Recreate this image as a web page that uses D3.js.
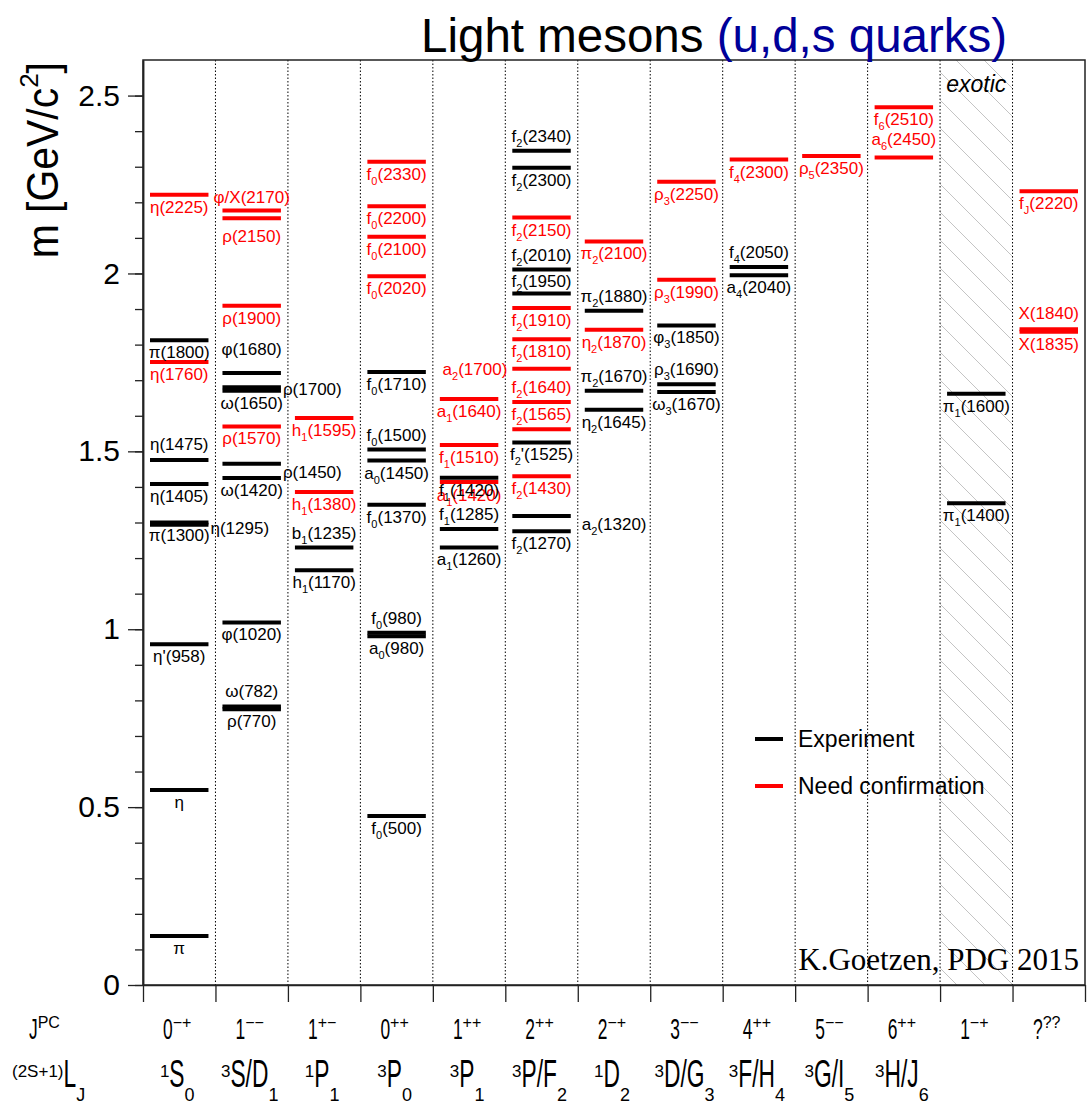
<!DOCTYPE html>
<html>
<head>
<meta charset="utf-8">
<script src="https://cdn.jsdelivr.net/npm/d3@7"></script>
<style>
body { margin: 0; background: #fff; }
svg text { font-family: "Liberation Sans", Arial, Helvetica, sans-serif; }
</style>
</head>
<body>
<svg id="chart" width="1091" height="1104"></svg>
<script>
// quantum numbers of each column
const jpcMain = ['0', '1', '1', '0', '1', '2', '2', '3', '4', '5', '6', '1', '?'];
const jpcSup = ['−+', '−−', '+−', '++', '++', '++', '−+', '−−', '++', '−−', '++', '−+', '??'];
const lSup = ['1', '3', '1', '3', '3', '3', '1', '3', '3', '3', '3', '', ''];
const lMain = ['S', 'S/D', 'P', 'P', 'P', 'P/F', 'D', 'D/G', 'F/H', 'G/I', 'H/J', '', ''];
const lSub = ['0', '1', '1', '0', '1', '2', '2', '3', '4', '5', '6', '', ''];
const exoticColumn = 11;

// states: [column, name (_x = subscript), mass in GeV, established?]
const states = [
  [0, 'π', 0.138, 1], [0, 'η', 0.548, 1], [0, "η'(958)", 0.958, 1],
  [0, 'η(1295)', 1.294, 1], [0, 'π(1300)', 1.300, 1], [0, 'η(1405)', 1.408, 1],
  [0, 'η(1475)', 1.476, 1], [0, 'η(1760)', 1.751, 0], [0, 'π(1800)', 1.812, 1],
  [0, 'η(2225)', 2.221, 0],

  [1, 'ρ(770)', 0.775, 1], [1, 'ω(782)', 0.783, 1], [1, 'φ(1020)', 1.019, 1],
  [1, 'ω(1420)', 1.425, 1], [1, 'ρ(1450)', 1.465, 1], [1, 'ρ(1570)', 1.570, 0],
  [1, 'ω(1650)', 1.670, 1], [1, 'φ(1680)', 1.680, 1], [1, 'ρ(1700)', 1.720, 1],
  [1, 'ρ(1900)', 1.909, 0], [1, 'ρ(2150)', 2.155, 0], [1, 'φ/X(2170)', 2.177, 0],

  [2, 'h_1(1170)', 1.166, 1], [2, 'b_1(1235)', 1.2295, 1],
  [2, 'h_1(1380)', 1.386, 0], [2, 'h_1(1595)', 1.594, 0],

  [3, 'f_0(500)', 0.475, 1], [3, 'a_0(980)', 0.980, 1], [3, 'f_0(980)', 0.990, 1],
  [3, 'f_0(1370)', 1.350, 1], [3, 'a_0(1450)', 1.474, 1], [3, 'f_0(1500)', 1.505, 1],
  [3, 'f_0(1710)', 1.723, 1], [3, 'f_0(2020)', 1.992, 0], [3, 'f_0(2100)', 2.103, 0],
  [3, 'f_0(2200)', 2.189, 0], [3, 'f_0(2330)', 2.314, 0],

  [4, 'a_1(1260)', 1.230, 1], [4, 'f_1(1285)', 1.282, 1], [4, 'a_1(1420)', 1.414, 0],
  [4, 'f_1(1420)', 1.426, 1], [4, 'f_1(1510)', 1.518, 0], [4, 'a_1(1640)', 1.647, 0],

  [5, 'f_2(1270)', 1.2755, 1], [5, 'a_2(1320)', 1.318, 1], [5, 'f_2(1430)', 1.430, 0],
  [5, "f_2'(1525)", 1.525, 1], [5, 'f_2(1565)', 1.562, 0], [5, 'f_2(1640)', 1.639, 0],
  [5, 'a_2(1700)', 1.732, 0], [5, 'f_2(1810)', 1.815, 0], [5, 'f_2(1910)', 1.903, 0],
  [5, 'f_2(1950)', 1.944, 1], [5, 'f_2(2010)', 2.011, 1], [5, 'f_2(2150)', 2.157, 0],
  [5, 'f_2(2300)', 2.297, 1], [5, 'f_2(2340)', 2.345, 1],

  [6, 'η_2(1645)', 1.617, 1], [6, 'π_2(1670)', 1.6706, 1], [6, 'η_2(1870)', 1.842, 0],
  [6, 'π_2(1880)', 1.895, 1], [6, 'π_2(2100)', 2.090, 0],

  [7, 'ω_3(1670)', 1.667, 1], [7, 'ρ_3(1690)', 1.6888, 1], [7, 'φ_3(1850)', 1.854, 1],
  [7, 'ρ_3(1990)', 1.982, 0], [7, 'ρ_3(2250)', 2.258, 0],

  [8, 'a_4(2040)', 1.995, 1], [8, 'f_4(2050)', 2.018, 1], [8, 'f_4(2300)', 2.320, 0],

  [9, 'ρ_5(2350)', 2.330, 0],

  [10, 'a_6(2450)', 2.326, 0], [10, 'f_6(2510)', 2.467, 0],

  [11, 'π_1(1400)', 1.354, 1], [11, 'π_1(1600)', 1.662, 1],

  [12, 'X(1835)', 1.8365, 0], [12, 'X(1840)', 1.843, 0], [12, 'f_J(2220)', 2.231, 0]
];

const yMajorTicks = [0, 0.5, 1, 1.5, 2, 2.5];
const legendLabels = ['Experiment', 'Need confirmation'];

// where each label sits relative to its bar (default: below)
const labelPlace = {
  'η(1295)': ['r', 9, 2], 'η(1475)': ['a', -10],
  'ω(782)': ['a'], 'ρ(1450)': ['r', 14, 2], 'φ(1680)': ['a', -32], 'ρ(1700)': ['r', 22, 2],
  'ρ(2150)': ['b', 24], 'φ/X(2170)': ['a', -7],
  'b_1(1235)': ['a'],
  'f_0(980)': ['a'], 'f_0(1500)': ['a'],
  'f_1(1285)': ['a'], 'a_1(1420)': ['b', 19],
  'a_2(1320)': ['r', 14, 11], 'f_2(1565)': ['a'], 'f_2(1640)': ['a'], 'a_2(1700)': ['l', 6, 5],
  'f_2(1950)': ['a', -6], 'f_2(2010)': ['a'], 'f_2(2340)': ['a'],
  'π_2(1670)': ['a'], 'π_2(1880)': ['a'],
  'ρ_3(1690)': ['a'], 'f_4(2050)': ['a'],
  'a_6(2450)': ['a', -12], 'X(1840)': ['a', -10]
};

const frameL = 143, frameR = 1085, frameT = 60, frameB = 985;
const RED = '#ff0000';

const svg = d3.select('#chart');

const x = d3.scaleLinear().domain([0, jpcMain.length]).range([frameL, frameR]);
const y = d3.scaleLinear().domain([0, 2.6]).range([frameB, frameT]);

// hatch for the exotic column
const defs = svg.append('defs');
defs.append('pattern')
  .attr('id', 'hatch')
  .attr('patternUnits', 'userSpaceOnUse')
  .attr('width', 28).attr('height', 28)
  .append('path')
  .attr('d', 'M0,0L28,28M-4,24L4,32M24,-4L32,4')
  .attr('stroke', '#c4c4c4')
  .attr('stroke-width', 1);

svg.append('rect')
  .attr('x', x(exoticColumn)).attr('y', frameT)
  .attr('width', x(exoticColumn + 1) - x(exoticColumn))
  .attr('height', frameB - frameT)
  .attr('fill', 'url(#hatch)');

// dotted separators
svg.append('g').selectAll('line')
  .data(d3.range(1, jpcMain.length))
  .enter().append('line')
  .attr('x1', d => x(d)).attr('x2', d => x(d))
  .attr('y1', frameT).attr('y2', frameB)
  .attr('stroke', '#000')
  .attr('stroke-width', 1)
  .attr('stroke-dasharray', '1.5,2');

// frame
svg.append('rect')
  .attr('x', frameL).attr('y', frameT)
  .attr('width', frameR - frameL).attr('height', frameB - frameT)
  .attr('fill', 'none').attr('stroke', '#222').attr('stroke-width', 1.5);

// axes
const yMinor = svg.append('g')
  .attr('transform', `translate(${frameL},0)`)
  .call(d3.axisLeft(y).tickValues(d3.range(0, 26).map(i => i / 10)).tickSize(8).tickSizeOuter(0).tickFormat(''));
const yMajor = svg.append('g')
  .attr('transform', `translate(${frameL},0)`)
  .call(d3.axisLeft(y).tickValues(yMajorTicks).tickSize(15).tickSizeOuter(0).tickPadding(8).tickFormat(d => String(d)));
yMajor.selectAll('text').style('font-size', '30px').attr('fill', '#000');
[yMinor, yMajor].forEach(g => {
  g.select('.domain').attr('stroke', '#222').attr('stroke-width', 1.5);
  g.selectAll('line').attr('stroke', '#222').attr('stroke-width', 1.3);
});

const xAxis = svg.append('g')
  .attr('transform', `translate(0,${frameB})`)
  .call(d3.axisBottom(x).tickValues(d3.range(jpcMain.length + 1)).tickSize(17).tickSizeOuter(0).tickFormat(''));
xAxis.select('.domain').attr('stroke', '#222').attr('stroke-width', 1.5);
xAxis.selectAll('line').attr('stroke', '#222').attr('stroke-width', 1.3);

// bars
const barX0 = c => x(c) + 7;
const barX1 = c => x(c + 1) - 7;

const bars = svg.append('g');
bars.selectAll('line')
  .data(states)
  .enter().append('line')
  .attr('x1', d => barX0(d[0])).attr('x2', d => barX1(d[0]))
  .attr('y1', d => y(d[2])).attr('y2', d => y(d[2]))
  .attr('stroke', d => d[3] ? '#000' : RED)
  .attr('stroke-width', 4);

// labels
function stateLabel(g, d) {
  const [c, name, m, ok] = d;
  const place = labelPlace[name] || ['b'];
  const side = place[0];
  const dy = place[1] !== undefined ? place[1] : (side === 'a' ? -9 : 18);
  const dx = place[2] || 0;
  let tx = (x(c) + x(c + 1)) / 2, anchor = 'middle';
  if (side === 'r') { tx = barX1(c) + dx; anchor = 'start'; }
  if (side === 'l') { tx = barX0(c) - dx; anchor = 'end'; }
  const parts = name.match(/^([^_]*)(?:_(.))?(.*)$/);
  const t = g.append('text')
    .attr('x', tx).attr('y', y(m) + dy)
    .attr('text-anchor', anchor)
    .attr('fill', ok ? '#000' : RED)
    .style('font-size', '17px');
  t.append('tspan').text(parts[1]);
  if (parts[2]) {
    t.append('tspan').attr('dy', 5).style('font-size', '11px').text(parts[2]);
    t.append('tspan').attr('dy', -5).text(parts[3]);
  } else if (parts[3]) {
    t.append('tspan').text(parts[3]);
  }
}
const labels = svg.append('g');
states.filter(d => !d[3]).forEach(d => stateLabel(labels, d));
states.filter(d => d[3]).forEach(d => stateLabel(labels, d));

// text made of pieces, main glyphs condensed
function pieces(parent, list, px, py, anchor) {
  const g = parent.append('g');
  let w = 0;
  list.forEach(p => {
    if (!p.text) return;
    const sx = p.sx || 1;
    const t = g.append('text')
      .attr('transform', `translate(${w},${p.dy || 0}) scale(${sx},1)`)
      .style('font-size', p.size + 'px')
      .attr('fill', '#000')
      .text(p.text);
    w += t.node().getComputedTextLength() * sx;
  });
  const off = anchor === 'middle' ? -w / 2 : anchor === 'end' ? -w : 0;
  g.attr('transform', `translate(${px + off},${py})`);
  return g;
}

const rows = svg.append('g');
jpcMain.forEach((j, i) => {
  const cx = (x(i) + x(i + 1)) / 2 - 2;
  pieces(rows, [
    { text: j, size: 29, sx: 0.6 },
    { text: jpcSup[i], size: 16, dy: -11 }
  ], cx, 1039, 'middle');
  pieces(rows, [
    { text: lSup[i], size: 17, dy: -10 },
    { text: lMain[i], size: 38, sx: 0.6 },
    { text: lSub[i], size: 18, dy: 14 }
  ], cx, 1087, 'middle');
});
pieces(rows, [
  { text: 'J', size: 29, sx: 0.6 },
  { text: 'PC', size: 16, dy: -11 }
], 29, 1039, 'start');
pieces(rows, [
  { text: '(2S+1)', size: 17, dy: -10 },
  { text: 'L', size: 38, sx: 0.6 },
  { text: 'J', size: 18, dy: 14 }
], 12, 1087, 'start');

// y axis title
const yTitle = svg.append('g').attr('transform', 'translate(58,62) rotate(-90)');
pieces(yTitle, [
  { text: 'm [GeV/c', size: 44, sx: 0.93 },
  { text: '2', size: 26, dy: -20 },
  { text: ']', size: 44, sx: 0.93 }
], 0, 0, 'end');

// title
const title = svg.append('text')
  .attr('x', 421).attr('y', 52)
  .style('font-size', '47.5px')
  .attr('fill', '#000');
title.append('tspan').text('Light mesons ');
title.append('tspan').attr('fill', '#000099').text('(u,d,s quarks)');

// exotic tag
svg.append('text')
  .attr('x', (x(exoticColumn) + x(exoticColumn + 1)) / 2)
  .attr('y', 92)
  .attr('text-anchor', 'middle')
  .style('font-size', '23px')
  .style('font-style', 'italic')
  .text('exotic');

// legend
const legend = svg.append('g');
legendLabels.forEach((lab, i) => {
  const ly = 739 + i * 47;
  legend.append('line')
    .attr('x1', 755).attr('x2', 783)
    .attr('y1', ly).attr('y2', ly)
    .attr('stroke', i === 0 ? '#000' : RED)
    .attr('stroke-width', 4);
  legend.append('text')
    .attr('x', 798).attr('y', ly + 8)
    .style('font-size', '23px')
    .text(lab);
});

// credit
svg.append('text')
  .attr('x', 1079).attr('y', 970)
  .attr('text-anchor', 'end')
  .style('font-family', '"Liberation Serif", "Times New Roman", serif')
  .style('font-size', '31px')
  .text('K.Goetzen, PDG 2015');
</script>
</body>
</html>
